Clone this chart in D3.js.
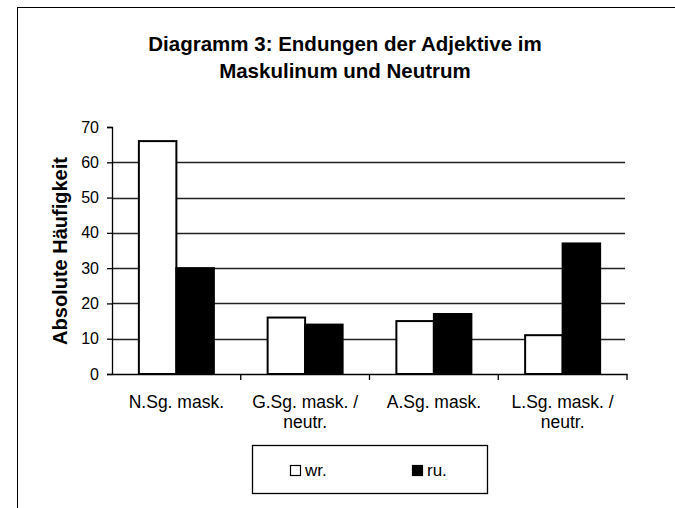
<!DOCTYPE html>
<html>
<head>
<meta charset="utf-8">
<script src="https://cdn.jsdelivr.net/npm/d3@7"></script>
<style>
  body { margin: 0; background: #fff; }
  text { font-family: "Liberation Sans", Arial, sans-serif; fill: #000; }
</style>
</head>
<body>
<div id="chart"></div>
<script>
// Chart data
const categories = [["N.Sg. mask."], ["G.Sg. mask. /", "neutr."], ["A.Sg. mask."], ["L.Sg. mask. /", "neutr."]];
const seriesNames = ["wr.", "ru."];
const wrValues = [66, 16, 15, 11];
const ruValues = [30, 14, 17, 37];
const yTicks = [0, 10, 20, 30, 40, 50, 60, 70];
const seriesFill = ["#ffffff", "#000000"];

const width = 675, height = 508;
const svg = d3.select('#chart').append('svg')
    .attr('width', width)
    .attr('height', height);

// outer frame
svg.append('rect')
    .attr('x', 17.5).attr('y', 7.5)
    .attr('width', 680).attr('height', 520)
    .attr('fill', 'none').attr('stroke', '#000').attr('stroke-width', 1);

// title
const title = svg.append('text')
    .attr('text-anchor', 'middle')
    .attr('font-size', '20.5px').attr('font-weight', 'bold');
title.append('tspan').attr('x', 345).attr('y', 51).text('Diagramm 3: Endungen der Adjektive im');
title.append('tspan').attr('x', 345).attr('y', 78).text('Maskulinum und Neutrum');

const plot = { left: 112, right: 627, top: 127, bottom: 374 };

const x = d3.scaleBand()
    .domain(d3.range(categories.length))
    .range([plot.left, plot.right]);

const y = d3.scaleLinear().domain([0, 70]).range([plot.bottom, plot.top]);

// gridlines
svg.append('g').selectAll('line')
    .data(yTicks.filter(d => d > 0 && d < 70))
    .enter().append('line')
    .attr('x1', plot.left).attr('x2', plot.right - 2)
    .attr('y1', d => Math.round(y(d)) + 0.5).attr('y2', d => Math.round(y(d)) + 0.5)
    .attr('stroke', '#222').attr('stroke-width', 1.3);

// bars
const barW = 37.5;
const rows = categories.map((c, i) => ({ i, values: [wrValues[i], ruValues[i]] }));
const groups = svg.append('g').selectAll('g')
    .data(rows).enter().append('g');
groups.selectAll('rect')
    .data(d => d.values.map((v, s) => ({ i: d.i, s, v })))
    .enter().append('rect')
    .attr('x', d => x(d.i) + x.bandwidth() / 2 - barW + d.s * barW)
    .attr('y', d => y(d.v))
    .attr('width', barW)
    .attr('height', d => y(0) - y(d.v))
    .attr('fill', d => seriesFill[d.s])
    .attr('stroke', '#000').attr('stroke-width', 2);

// y axis
const yAxis = svg.append('g')
    .attr('transform', `translate(${plot.left},0)`)
    .call(d3.axisLeft(y).tickValues(yTicks).tickSize(5).tickPadding(8));
yAxis.select('.domain').attr('stroke', '#000').attr('stroke-width', 1.3);
yAxis.selectAll('.tick line').attr('stroke', '#000').attr('stroke-width', 1.3);
yAxis.selectAll('.tick text')
    .attr('font-size', '16px')
    .style('font-family', '"Liberation Sans", Arial, sans-serif');

// x axis
const xAxis = svg.append('g')
    .attr('transform', `translate(0,${plot.bottom})`)
    .call(d3.axisBottom(x).tickSize(0).tickFormat(''));
xAxis.select('.domain').attr('stroke', '#000').attr('stroke-width', 1.3);
svg.append('g').selectAll('line')
    .data(d3.range(categories.length))
    .enter().append('line')
    .attr('x1', d => x(d) + x.bandwidth()).attr('x2', d => x(d) + x.bandwidth())
    .attr('y1', plot.bottom).attr('y2', plot.bottom + 6)
    .attr('stroke', '#000').attr('stroke-width', 1.3);

// x labels
const xl = svg.append('g').selectAll('text')
    .data(categories).enter().append('text')
    .attr('text-anchor', 'middle')
    .attr('font-size', '17.5px');
xl.each(function(lines, i) {
    lines.forEach((ln, k) => {
        d3.select(this).append('tspan')
            .attr('x', x(i) + x.bandwidth() / 2)
            .attr('y', 408 + k * 20)
            .text(ln);
    });
});

// y axis title
svg.append('text')
    .attr('transform', 'translate(67,251) rotate(-90)')
    .attr('text-anchor', 'middle')
    .attr('font-size', '20px').attr('font-weight', 'bold')
    .text('Absolute Häufigkeit');

// legend
const legend = svg.append('g');
legend.append('rect')
    .attr('x', 252.5).attr('y', 445.5).attr('width', 235).attr('height', 48)
    .attr('fill', '#fff').attr('stroke', '#000').attr('stroke-width', 1.3);
const legendX = [290, 412];
seriesNames.forEach((name, s) => {
    legend.append('rect')
        .attr('x', legendX[s] + 0.5).attr('y', 465.5).attr('width', 10).attr('height', 10)
        .attr('fill', seriesFill[s]).attr('stroke', '#000').attr('stroke-width', 1.2);
    legend.append('text')
        .attr('x', legendX[s] + 15).attr('y', 476)
        .attr('font-size', '17px')
        .text(name);
});
</script>
</body>
</html>
